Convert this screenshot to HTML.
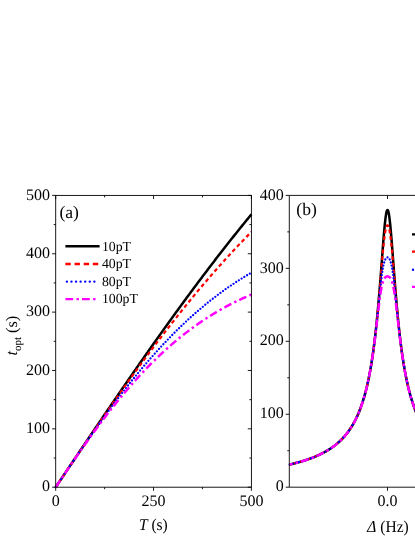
<!DOCTYPE html>
<html><head><meta charset="utf-8"><title>fig</title>
<style>
html,body{margin:0;padding:0;background:#fff;}
svg{display:block;}
text{font-family:"Liberation Serif",serif;fill:#000;text-rendering:geometricPrecision;}
svg{will-change:transform;}
</style></head><body>
<svg width="415" height="537" viewBox="0 0 415 537">
<rect width="415" height="537" fill="#fff"/>
<g id="curvesA"><path d="M55.70,487.20 L56.68,485.74 L57.66,484.28 L58.64,482.82 L59.61,481.36 L60.59,479.91 L61.57,478.45 L62.55,476.99 L63.53,475.53 L64.51,474.07 L65.48,472.61 L66.46,471.15 L67.44,469.70 L68.42,468.24 L69.40,466.78 L70.38,465.32 L71.36,463.87 L72.33,462.41 L73.31,460.95 L74.29,459.50 L75.27,458.04 L76.25,456.58 L77.23,455.13 L78.21,453.67 L79.18,452.22 L80.16,450.76 L81.14,449.31 L82.12,447.86 L83.10,446.40 L84.08,444.95 L85.06,443.50 L86.03,442.05 L87.01,440.59 L87.99,439.14 L88.97,437.69 L89.95,436.24 L90.93,434.79 L91.90,433.35 L92.88,431.90 L93.86,430.45 L94.84,429.00 L95.82,427.56 L96.80,426.11 L97.78,424.66 L98.75,423.22 L99.73,421.78 L100.71,420.33 L101.69,418.89 L102.67,417.45 L103.65,416.01 L104.62,414.57 L105.60,413.13 L106.58,411.69 L107.56,410.25 L108.54,408.81 L109.52,407.37 L110.50,405.94 L111.47,404.50 L112.45,403.07 L113.43,401.64 L114.41,400.20 L115.39,398.77 L116.37,397.34 L117.35,395.91 L118.32,394.48 L119.30,393.06 L120.28,391.63 L121.26,390.20 L122.24,388.78 L123.22,387.36 L124.20,385.93 L125.17,384.51 L126.15,383.09 L127.13,381.67 L128.11,380.25 L129.09,378.83 L130.07,377.42 L131.04,376.00 L132.02,374.59 L133.00,373.18 L133.98,371.76 L134.96,370.35 L135.94,368.94 L136.92,367.54 L137.89,366.13 L138.87,364.72 L139.85,363.32 L140.83,361.92 L141.81,360.51 L142.79,359.11 L143.76,357.71 L144.74,356.31 L145.72,354.92 L146.70,353.52 L147.68,352.13 L148.66,350.74 L149.64,349.34 L150.61,347.95 L151.59,346.57 L152.57,345.18 L153.55,343.79 L154.53,342.41 L155.51,341.03 L156.49,339.64 L157.46,338.26 L158.44,336.89 L159.42,335.51 L160.40,334.13 L161.38,332.76 L162.36,331.39 L163.34,330.02 L164.31,328.65 L165.29,327.28 L166.27,325.91 L167.25,324.55 L168.23,323.18 L169.21,321.82 L170.18,320.46 L171.16,319.11 L172.14,317.75 L173.12,316.39 L174.10,315.04 L175.08,313.69 L176.06,312.34 L177.03,310.99 L178.01,309.65 L178.99,308.30 L179.97,306.96 L180.95,305.62 L181.93,304.28 L182.90,302.94 L183.88,301.61 L184.86,300.27 L185.84,298.94 L186.82,297.61 L187.80,296.28 L188.78,294.96 L189.75,293.63 L190.73,292.31 L191.71,290.99 L192.69,289.67 L193.67,288.35 L194.65,287.04 L195.63,285.72 L196.60,284.41 L197.58,283.10 L198.56,281.80 L199.54,280.49 L200.52,279.19 L201.50,277.89 L202.48,276.59 L203.45,275.29 L204.43,273.99 L205.41,272.70 L206.39,271.41 L207.37,270.12 L208.35,268.83 L209.32,267.55 L210.30,266.26 L211.28,264.98 L212.26,263.70 L213.24,262.43 L214.22,261.15 L215.20,259.88 L216.17,258.61 L217.15,257.34 L218.13,256.07 L219.11,254.81 L220.09,253.55 L221.07,252.29 L222.05,251.03 L223.02,249.78 L224.00,248.52 L224.98,247.27 L225.96,246.02 L226.94,244.78 L227.92,243.53 L228.89,242.29 L229.87,241.05 L230.85,239.81 L231.83,238.58 L232.81,237.35 L233.79,236.12 L234.77,234.89 L235.74,233.66 L236.72,232.44 L237.70,231.22 L238.68,230.00 L239.66,228.78 L240.64,227.57 L241.62,226.36 L242.59,225.15 L243.57,223.94 L244.55,222.73 L245.53,221.53 L246.51,220.33 L247.49,219.13 L248.46,217.94 L249.44,216.75 L250.42,215.56 L251.40,214.37" fill="none" stroke="#000000" stroke-width="2.5"/>
<path d="M55.70,487.20 L56.68,485.74 L57.66,484.28 L58.64,482.82 L59.61,481.36 L60.59,479.91 L61.57,478.45 L62.55,476.99 L63.53,475.53 L64.51,474.08 L65.48,472.62 L66.46,471.16 L67.44,469.71 L68.42,468.25 L69.40,466.80 L70.38,465.34 L71.36,463.89 L72.33,462.44 L73.31,460.99 L74.29,459.54 L75.27,458.09 L76.25,456.64 L77.23,455.19 L78.21,453.74 L79.18,452.29 L80.16,450.85 L81.14,449.40 L82.12,447.96 L83.10,446.52 L84.08,445.08 L85.06,443.63 L86.03,442.20 L87.01,440.76 L87.99,439.32 L88.97,437.88 L89.95,436.45 L90.93,435.02 L91.90,433.58 L92.88,432.15 L93.86,430.72 L94.84,429.30 L95.82,427.87 L96.80,426.44 L97.78,425.02 L98.75,423.60 L99.73,422.18 L100.71,420.76 L101.69,419.34 L102.67,417.93 L103.65,416.51 L104.62,415.10 L105.60,413.69 L106.58,412.28 L107.56,410.87 L108.54,409.47 L109.52,408.06 L110.50,406.66 L111.47,405.26 L112.45,403.86 L113.43,402.46 L114.41,401.07 L115.39,399.68 L116.37,398.28 L117.35,396.90 L118.32,395.51 L119.30,394.12 L120.28,392.74 L121.26,391.36 L122.24,389.98 L123.22,388.60 L124.20,387.23 L125.17,385.86 L126.15,384.48 L127.13,383.12 L128.11,381.75 L129.09,380.39 L130.07,379.02 L131.04,377.66 L132.02,376.31 L133.00,374.95 L133.98,373.60 L134.96,372.25 L135.94,370.90 L136.92,369.55 L137.89,368.21 L138.87,366.87 L139.85,365.53 L140.83,364.19 L141.81,362.86 L142.79,361.53 L143.76,360.20 L144.74,358.87 L145.72,357.55 L146.70,356.23 L147.68,354.91 L148.66,353.59 L149.64,352.28 L150.61,350.97 L151.59,349.66 L152.57,348.35 L153.55,347.05 L154.53,345.75 L155.51,344.45 L156.49,343.16 L157.46,341.86 L158.44,340.57 L159.42,339.29 L160.40,338.00 L161.38,336.72 L162.36,335.44 L163.34,334.16 L164.31,332.89 L165.29,331.62 L166.27,330.35 L167.25,329.09 L168.23,327.82 L169.21,326.56 L170.18,325.31 L171.16,324.05 L172.14,322.80 L173.12,321.56 L174.10,320.31 L175.08,319.07 L176.06,317.83 L177.03,316.59 L178.01,315.36 L178.99,314.13 L179.97,312.90 L180.95,311.68 L181.93,310.46 L182.90,309.24 L183.88,308.02 L184.86,306.81 L185.84,305.60 L186.82,304.39 L187.80,303.19 L188.78,301.99 L189.75,300.79 L190.73,299.60 L191.71,298.41 L192.69,297.22 L193.67,296.04 L194.65,294.86 L195.63,293.68 L196.60,292.50 L197.58,291.33 L198.56,290.16 L199.54,288.99 L200.52,287.83 L201.50,286.67 L202.48,285.52 L203.45,284.36 L204.43,283.21 L205.41,282.07 L206.39,280.92 L207.37,279.78 L208.35,278.65 L209.32,277.51 L210.30,276.38 L211.28,275.25 L212.26,274.13 L213.24,273.01 L214.22,271.89 L215.20,270.78 L216.17,269.67 L217.15,268.56 L218.13,267.45 L219.11,266.35 L220.09,265.25 L221.07,264.16 L222.05,263.07 L223.02,261.98 L224.00,260.89 L224.98,259.81 L225.96,258.74 L226.94,257.66 L227.92,256.59 L228.89,255.52 L229.87,254.46 L230.85,253.39 L231.83,252.34 L232.81,251.28 L233.79,250.23 L234.77,249.18 L235.74,248.14 L236.72,247.09 L237.70,246.06 L238.68,245.02 L239.66,243.99 L240.64,242.96 L241.62,241.94 L242.59,240.92 L243.57,239.90 L244.55,238.88 L245.53,237.87 L246.51,236.86 L247.49,235.86 L248.46,234.86 L249.44,233.86 L250.42,232.87 L251.40,231.88" fill="none" stroke="#ff0000" stroke-width="2.2" stroke-dasharray="3.8 2.9"/>
<path d="M55.70,487.20 L56.68,485.74 L57.66,484.28 L58.64,482.82 L59.61,481.37 L60.59,479.91 L61.57,478.45 L62.55,477.00 L63.53,475.54 L64.51,474.09 L65.48,472.63 L66.46,471.18 L67.44,469.73 L68.42,468.28 L69.40,466.84 L70.38,465.39 L71.36,463.94 L72.33,462.50 L73.31,461.06 L74.29,459.62 L75.27,458.19 L76.25,456.75 L77.23,455.32 L78.21,453.89 L79.18,452.46 L80.16,451.03 L81.14,449.61 L82.12,448.19 L83.10,446.77 L84.08,445.36 L85.06,443.94 L86.03,442.53 L87.01,441.13 L87.99,439.72 L88.97,438.32 L89.95,436.92 L90.93,435.53 L91.90,434.13 L92.88,432.75 L93.86,431.36 L94.84,429.98 L95.82,428.60 L96.80,427.22 L97.78,425.85 L98.75,424.49 L99.73,423.12 L100.71,421.76 L101.69,420.40 L102.67,419.05 L103.65,417.70 L104.62,416.36 L105.60,415.02 L106.58,413.68 L107.56,412.34 L108.54,411.02 L109.52,409.69 L110.50,408.37 L111.47,407.05 L112.45,405.74 L113.43,404.43 L114.41,403.13 L115.39,401.83 L116.37,400.54 L117.35,399.25 L118.32,397.96 L119.30,396.68 L120.28,395.40 L121.26,394.13 L122.24,392.87 L123.22,391.60 L124.20,390.35 L125.17,389.09 L126.15,387.85 L127.13,386.60 L128.11,385.37 L129.09,384.13 L130.07,382.91 L131.04,381.68 L132.02,380.46 L133.00,379.25 L133.98,378.04 L134.96,376.84 L135.94,375.64 L136.92,374.45 L137.89,373.26 L138.87,372.08 L139.85,370.90 L140.83,369.73 L141.81,368.57 L142.79,367.41 L143.76,366.25 L144.74,365.10 L145.72,363.95 L146.70,362.81 L147.68,361.68 L148.66,360.55 L149.64,359.43 L150.61,358.31 L151.59,357.20 L152.57,356.09 L153.55,354.99 L154.53,353.89 L155.51,352.80 L156.49,351.72 L157.46,350.64 L158.44,349.56 L159.42,348.50 L160.40,347.43 L161.38,346.38 L162.36,345.32 L163.34,344.28 L164.31,343.24 L165.29,342.20 L166.27,341.17 L167.25,340.15 L168.23,339.13 L169.21,338.12 L170.18,337.11 L171.16,336.11 L172.14,335.12 L173.12,334.13 L174.10,333.14 L175.08,332.16 L176.06,331.19 L177.03,330.22 L178.01,329.26 L178.99,328.31 L179.97,327.35 L180.95,326.41 L181.93,325.47 L182.90,324.54 L183.88,323.61 L184.86,322.69 L185.84,321.77 L186.82,320.86 L187.80,319.96 L188.78,319.06 L189.75,318.16 L190.73,317.27 L191.71,316.39 L192.69,315.51 L193.67,314.64 L194.65,313.78 L195.63,312.92 L196.60,312.06 L197.58,311.21 L198.56,310.37 L199.54,309.53 L200.52,308.70 L201.50,307.87 L202.48,307.05 L203.45,306.23 L204.43,305.42 L205.41,304.62 L206.39,303.82 L207.37,303.02 L208.35,302.24 L209.32,301.45 L210.30,300.68 L211.28,299.90 L212.26,299.14 L213.24,298.37 L214.22,297.62 L215.20,296.87 L216.17,296.12 L217.15,295.38 L218.13,294.65 L219.11,293.92 L220.09,293.19 L221.07,292.48 L222.05,291.76 L223.02,291.05 L224.00,290.35 L224.98,289.65 L225.96,288.96 L226.94,288.27 L227.92,287.59 L228.89,286.91 L229.87,286.24 L230.85,285.58 L231.83,284.91 L232.81,284.26 L233.79,283.61 L234.77,282.96 L235.74,282.32 L236.72,281.68 L237.70,281.05 L238.68,280.42 L239.66,279.80 L240.64,279.19 L241.62,278.57 L242.59,277.97 L243.57,277.37 L244.55,276.77 L245.53,276.18 L246.51,275.59 L247.49,275.01 L248.46,274.43 L249.44,273.86 L250.42,273.29 L251.40,272.73" fill="none" stroke="#0000ff" stroke-width="2.3" stroke-dasharray="0 3.2" stroke-linecap="round"/>
<path d="M55.70,487.20 L56.68,485.74 L57.66,484.28 L58.64,482.82 L59.61,481.37 L60.59,479.91 L61.57,478.46 L62.55,477.00 L63.53,475.55 L64.51,474.10 L65.48,472.66 L66.46,471.21 L67.44,469.77 L68.42,468.33 L69.40,466.89 L70.38,465.45 L71.36,464.02 L72.33,462.59 L73.31,461.16 L74.29,459.74 L75.27,458.32 L76.25,456.90 L77.23,455.49 L78.21,454.07 L79.18,452.67 L80.16,451.26 L81.14,449.87 L82.12,448.47 L83.10,447.08 L84.08,445.69 L85.06,444.31 L86.03,442.93 L87.01,441.56 L87.99,440.19 L88.97,438.82 L89.95,437.46 L90.93,436.10 L91.90,434.75 L92.88,433.40 L93.86,432.06 L94.84,430.73 L95.82,429.39 L96.80,428.07 L97.78,426.75 L98.75,425.43 L99.73,424.12 L100.71,422.81 L101.69,421.51 L102.67,420.22 L103.65,418.93 L104.62,417.64 L105.60,416.37 L106.58,415.09 L107.56,413.83 L108.54,412.57 L109.52,411.31 L110.50,410.06 L111.47,408.82 L112.45,407.58 L113.43,406.35 L114.41,405.12 L115.39,403.90 L116.37,402.69 L117.35,401.48 L118.32,400.28 L119.30,399.08 L120.28,397.89 L121.26,396.71 L122.24,395.53 L123.22,394.36 L124.20,393.20 L125.17,392.04 L126.15,390.89 L127.13,389.74 L128.11,388.60 L129.09,387.47 L130.07,386.35 L131.04,385.23 L132.02,384.11 L133.00,383.01 L133.98,381.90 L134.96,380.81 L135.94,379.72 L136.92,378.64 L137.89,377.57 L138.87,376.50 L139.85,375.44 L140.83,374.38 L141.81,373.34 L142.79,372.29 L143.76,371.26 L144.74,370.23 L145.72,369.21 L146.70,368.19 L147.68,367.18 L148.66,366.18 L149.64,365.19 L150.61,364.20 L151.59,363.21 L152.57,362.24 L153.55,361.27 L154.53,360.30 L155.51,359.35 L156.49,358.40 L157.46,357.45 L158.44,356.52 L159.42,355.59 L160.40,354.66 L161.38,353.75 L162.36,352.83 L163.34,351.93 L164.31,351.03 L165.29,350.14 L166.27,349.26 L167.25,348.38 L168.23,347.50 L169.21,346.64 L170.18,345.78 L171.16,344.93 L172.14,344.08 L173.12,343.24 L174.10,342.41 L175.08,341.58 L176.06,340.76 L177.03,339.94 L178.01,339.13 L178.99,338.33 L179.97,337.53 L180.95,336.74 L181.93,335.96 L182.90,335.18 L183.88,334.41 L184.86,333.64 L185.84,332.88 L186.82,332.13 L187.80,331.38 L188.78,330.64 L189.75,329.91 L190.73,329.18 L191.71,328.46 L192.69,327.74 L193.67,327.03 L194.65,326.32 L195.63,325.62 L196.60,324.93 L197.58,324.24 L198.56,323.56 L199.54,322.88 L200.52,322.21 L201.50,321.55 L202.48,320.89 L203.45,320.23 L204.43,319.59 L205.41,318.94 L206.39,318.31 L207.37,317.68 L208.35,317.05 L209.32,316.43 L210.30,315.82 L211.28,315.21 L212.26,314.60 L213.24,314.01 L214.22,313.41 L215.20,312.83 L216.17,312.24 L217.15,311.67 L218.13,311.10 L219.11,310.53 L220.09,309.97 L221.07,309.41 L222.05,308.86 L223.02,308.32 L224.00,307.78 L224.98,307.24 L225.96,306.71 L226.94,306.19 L227.92,305.67 L228.89,305.15 L229.87,304.64 L230.85,304.14 L231.83,303.64 L232.81,303.14 L233.79,302.65 L234.77,302.16 L235.74,301.68 L236.72,301.21 L237.70,300.73 L238.68,300.27 L239.66,299.81 L240.64,299.35 L241.62,298.90 L242.59,298.45 L243.57,298.00 L244.55,297.56 L245.53,297.13 L246.51,296.70 L247.49,296.27 L248.46,295.85 L249.44,295.43 L250.42,295.02 L251.40,294.61" fill="none" stroke="#ff00ff" stroke-width="2.5" stroke-dasharray="7.8 3.3 2.4 3.1"/></g>
<g id="curvesB"><path d="M289.30,464.62 L289.50,464.57 L289.75,464.51 L290.00,464.46 L290.25,464.40 L290.50,464.34 L290.75,464.28 L291.00,464.22 L291.25,464.16 L291.50,464.10 L291.75,464.04 L292.00,463.98 L292.25,463.92 L292.50,463.86 L292.75,463.80 L293.00,463.74 L293.25,463.68 L293.50,463.62 L293.75,463.55 L294.00,463.49 L294.25,463.43 L294.50,463.36 L294.75,463.30 L295.00,463.24 L295.25,463.17 L295.50,463.11 L295.75,463.04 L296.00,462.98 L296.25,462.91 L296.50,462.84 L296.75,462.78 L297.00,462.71 L297.25,462.64 L297.50,462.58 L297.75,462.51 L298.00,462.44 L298.25,462.37 L298.50,462.30 L298.75,462.23 L299.00,462.16 L299.25,462.09 L299.50,462.02 L299.75,461.95 L300.00,461.88 L300.25,461.81 L300.50,461.73 L300.75,461.66 L301.00,461.59 L301.25,461.51 L301.50,461.44 L301.75,461.37 L302.00,461.29 L302.25,461.22 L302.50,461.14 L302.75,461.06 L303.00,460.99 L303.25,460.91 L303.50,460.83 L303.75,460.75 L304.00,460.68 L304.25,460.60 L304.50,460.52 L304.75,460.44 L305.00,460.36 L305.25,460.28 L305.50,460.20 L305.75,460.11 L306.00,460.03 L306.25,459.95 L306.50,459.87 L306.75,459.78 L307.00,459.70 L307.25,459.61 L307.50,459.53 L307.75,459.44 L308.00,459.35 L308.25,459.27 L308.50,459.18 L308.75,459.09 L309.00,459.00 L309.25,458.91 L309.50,458.82 L309.75,458.73 L310.00,458.64 L310.25,458.55 L310.50,458.46 L310.75,458.37 L311.00,458.27 L311.25,458.18 L311.50,458.09 L311.75,457.99 L312.00,457.90 L312.25,457.80 L312.50,457.70 L312.75,457.60 L313.00,457.51 L313.25,457.41 L313.50,457.31 L313.75,457.21 L314.00,457.11 L314.25,457.01 L314.50,456.90 L314.75,456.80 L315.00,456.70 L315.25,456.59 L315.50,456.49 L315.75,456.38 L316.00,456.28 L316.25,456.17 L316.50,456.06 L316.75,455.95 L317.00,455.84 L317.25,455.73 L317.50,455.62 L317.75,455.51 L318.00,455.40 L318.25,455.28 L318.50,455.17 L318.75,455.06 L319.00,454.94 L319.25,454.82 L319.50,454.71 L319.75,454.59 L320.00,454.47 L320.25,454.35 L320.50,454.23 L320.75,454.11 L321.00,453.98 L321.25,453.86 L321.50,453.73 L321.75,453.61 L322.00,453.48 L322.25,453.36 L322.50,453.23 L322.75,453.10 L323.00,452.97 L323.25,452.84 L323.50,452.70 L323.75,452.57 L324.00,452.44 L324.25,452.30 L324.50,452.17 L324.75,452.03 L325.00,451.89 L325.25,451.75 L325.50,451.61 L325.75,451.47 L326.00,451.33 L326.25,451.18 L326.50,451.04 L326.75,450.89 L327.00,450.74 L327.25,450.59 L327.50,450.44 L327.75,450.29 L328.00,450.14 L328.25,449.99 L328.50,449.83 L328.75,449.68 L329.00,449.52 L329.25,449.36 L329.50,449.20 L329.75,449.04 L330.00,448.88 L330.25,448.71 L330.50,448.55 L330.75,448.38 L331.00,448.21 L331.25,448.04 L331.50,447.87 L331.75,447.70 L332.00,447.52 L332.25,447.35 L332.50,447.17 L332.75,446.99 L333.00,446.81 L333.25,446.63 L333.50,446.44 L333.75,446.26 L334.00,446.07 L334.25,445.88 L334.50,445.69 L334.75,445.50 L335.00,445.31 L335.25,445.11 L335.50,444.91 L335.75,444.71 L336.00,444.51 L336.25,444.31 L336.50,444.10 L336.75,443.90 L337.00,443.69 L337.25,443.48 L337.50,443.26 L337.75,443.05 L338.00,442.83 L338.25,442.61 L338.50,442.39 L338.75,442.17 L339.00,441.94 L339.25,441.71 L339.50,441.48 L339.75,441.25 L340.00,441.01 L340.25,440.78 L340.50,440.54 L340.75,440.29 L341.00,440.05 L341.25,439.80 L341.50,439.55 L341.75,439.30 L342.00,439.04 L342.25,438.79 L342.50,438.52 L342.75,438.26 L343.00,437.99 L343.25,437.73 L343.50,437.45 L343.75,437.18 L344.00,436.90 L344.25,436.62 L344.50,436.33 L344.75,436.05 L345.00,435.76 L345.25,435.46 L345.50,435.17 L345.75,434.87 L346.00,434.56 L346.25,434.25 L346.50,433.94 L346.75,433.63 L347.00,433.31 L347.25,432.99 L347.50,432.66 L347.75,432.33 L348.00,432.00 L348.25,431.66 L348.50,431.32 L348.75,430.97 L349.00,430.62 L349.25,430.27 L349.50,429.91 L349.75,429.55 L350.00,429.18 L350.25,428.81 L350.50,428.43 L350.75,428.05 L351.00,427.66 L351.25,427.27 L351.50,426.88 L351.75,426.47 L352.00,426.07 L352.25,425.66 L352.50,425.24 L352.75,424.81 L353.00,424.39 L353.25,423.95 L353.50,423.51 L353.75,423.06 L354.00,422.61 L354.25,422.15 L354.50,421.69 L354.75,421.21 L355.00,420.74 L355.25,420.25 L355.50,419.76 L355.75,419.26 L356.00,418.75 L356.25,418.24 L356.50,417.72 L356.75,417.19 L357.00,416.65 L357.25,416.11 L357.50,415.55 L357.75,414.99 L358.00,414.42 L358.25,413.84 L358.50,413.26 L358.75,412.66 L359.00,412.05 L359.25,411.44 L359.50,410.81 L359.75,410.18 L360.00,409.53 L360.25,408.88 L360.50,408.21 L360.75,407.53 L361.00,406.84 L361.25,406.14 L361.50,405.43 L361.75,404.71 L362.00,403.97 L362.25,403.22 L362.50,402.46 L362.75,401.69 L363.00,400.90 L363.25,400.10 L363.50,399.28 L363.75,398.45 L364.00,397.60 L364.25,396.74 L364.50,395.86 L364.75,394.97 L365.00,394.06 L365.25,393.13 L365.50,392.19 L365.75,391.23 L366.00,390.25 L366.25,389.25 L366.50,388.23 L366.75,387.19 L367.00,386.13 L367.25,385.06 L367.50,383.96 L367.75,382.83 L368.00,381.69 L368.25,380.52 L368.50,379.33 L368.75,378.11 L369.00,376.87 L369.25,375.60 L369.50,374.31 L369.75,372.98 L370.00,371.63 L370.25,370.26 L370.50,368.85 L370.75,367.41 L371.00,365.94 L371.25,364.44 L371.50,362.90 L371.75,361.33 L372.00,359.73 L372.25,358.09 L372.50,356.41 L372.75,354.70 L373.00,352.95 L373.25,351.16 L373.50,349.32 L373.75,347.45 L374.00,345.53 L374.25,343.57 L374.50,341.57 L374.75,339.52 L375.00,337.42 L375.25,335.28 L375.50,333.08 L375.75,330.84 L376.00,328.54 L376.25,326.20 L376.50,323.80 L376.75,321.35 L377.00,318.85 L377.25,316.29 L377.50,313.68 L377.75,311.02 L378.00,308.30 L378.25,305.52 L378.50,302.69 L378.75,299.81 L379.00,296.88 L379.25,293.90 L379.50,290.86 L379.75,287.78 L380.00,284.65 L380.25,281.49 L380.50,278.28 L380.75,275.04 L381.00,271.77 L381.25,268.48 L381.50,265.17 L381.75,261.85 L382.00,258.53 L382.25,255.21 L382.50,251.91 L382.75,248.64 L383.00,245.40 L383.25,242.21 L383.50,239.09 L383.75,236.05 L384.00,233.10 L384.25,230.26 L384.50,227.54 L384.75,224.96 L385.00,222.53 L385.25,220.28 L385.50,218.22 L385.75,216.35 L386.00,214.71 L386.25,213.29 L386.50,212.12 L386.75,211.19 L387.00,210.53 L387.25,210.12 L387.50,209.99 L387.75,210.12 L388.00,210.53 L388.25,211.19 L388.50,212.12 L388.75,213.29 L389.00,214.71 L389.25,216.35 L389.50,218.22 L389.75,220.28 L390.00,222.53 L390.25,224.96 L390.50,227.54 L390.75,230.26 L391.00,233.10 L391.25,236.05 L391.50,239.09 L391.75,242.21 L392.00,245.40 L392.25,248.64 L392.50,251.91 L392.75,255.21 L393.00,258.53 L393.25,261.85 L393.50,265.17 L393.75,268.48 L394.00,271.77 L394.25,275.04 L394.50,278.28 L394.75,281.49 L395.00,284.65 L395.25,287.78 L395.50,290.86 L395.75,293.90 L396.00,296.88 L396.25,299.81 L396.50,302.69 L396.75,305.52 L397.00,308.30 L397.25,311.02 L397.50,313.68 L397.75,316.29 L398.00,318.85 L398.25,321.35 L398.50,323.80 L398.75,326.20 L399.00,328.54 L399.25,330.84 L399.50,333.08 L399.75,335.28 L400.00,337.42 L400.25,339.52 L400.50,341.57 L400.75,343.57 L401.00,345.53 L401.25,347.45 L401.50,349.32 L401.75,351.16 L402.00,352.95 L402.25,354.70 L402.50,356.41 L402.75,358.09 L403.00,359.73 L403.25,361.33 L403.50,362.90 L403.75,364.44 L404.00,365.94 L404.25,367.41 L404.50,368.85 L404.75,370.26 L405.00,371.63 L405.25,372.98 L405.50,374.31 L405.75,375.60 L406.00,376.87 L406.25,378.11 L406.50,379.33 L406.75,380.52 L407.00,381.69 L407.25,382.83 L407.50,383.96 L407.75,385.06 L408.00,386.13 L408.25,387.19 L408.50,388.23 L408.75,389.25 L409.00,390.25 L409.25,391.23 L409.50,392.19 L409.75,393.13 L410.00,394.06 L410.25,394.97 L410.50,395.86 L410.75,396.74 L411.00,397.60 L411.25,398.45 L411.50,399.28 L411.75,400.10 L412.00,400.90 L412.25,401.69 L412.50,402.46 L412.75,403.22 L413.00,403.97 L413.25,404.71 L413.50,405.43 L413.75,406.14 L414.00,406.84 L414.25,407.53 L414.50,408.21 L414.75,408.88 L415.00,409.53 L415.25,410.18 L415.50,410.81 L415.75,411.44 L416.00,412.05 L416.25,412.66 L416.50,413.26 L416.75,413.84 L417.00,414.42 L417.25,414.99 L417.50,415.55 L417.75,416.11 L418.00,416.65" fill="none" stroke="#000000" stroke-width="2.5" stroke-linejoin="round"/>
<path d="M289.30,464.62 L289.50,464.57 L289.75,464.51 L290.00,464.46 L290.25,464.40 L290.50,464.34 L290.75,464.28 L291.00,464.22 L291.25,464.16 L291.50,464.10 L291.75,464.04 L292.00,463.98 L292.25,463.92 L292.50,463.86 L292.75,463.80 L293.00,463.74 L293.25,463.68 L293.50,463.62 L293.75,463.55 L294.00,463.49 L294.25,463.43 L294.50,463.36 L294.75,463.30 L295.00,463.24 L295.25,463.17 L295.50,463.11 L295.75,463.04 L296.00,462.98 L296.25,462.91 L296.50,462.84 L296.75,462.78 L297.00,462.71 L297.25,462.64 L297.50,462.58 L297.75,462.51 L298.00,462.44 L298.25,462.37 L298.50,462.30 L298.75,462.23 L299.00,462.16 L299.25,462.09 L299.50,462.02 L299.75,461.95 L300.00,461.88 L300.25,461.81 L300.50,461.73 L300.75,461.66 L301.00,461.59 L301.25,461.51 L301.50,461.44 L301.75,461.37 L302.00,461.29 L302.25,461.22 L302.50,461.14 L302.75,461.06 L303.00,460.99 L303.25,460.91 L303.50,460.83 L303.75,460.75 L304.00,460.68 L304.25,460.60 L304.50,460.52 L304.75,460.44 L305.00,460.36 L305.25,460.28 L305.50,460.20 L305.75,460.11 L306.00,460.03 L306.25,459.95 L306.50,459.87 L306.75,459.78 L307.00,459.70 L307.25,459.61 L307.50,459.53 L307.75,459.44 L308.00,459.35 L308.25,459.27 L308.50,459.18 L308.75,459.09 L309.00,459.00 L309.25,458.91 L309.50,458.82 L309.75,458.73 L310.00,458.64 L310.25,458.55 L310.50,458.46 L310.75,458.37 L311.00,458.27 L311.25,458.18 L311.50,458.09 L311.75,457.99 L312.00,457.90 L312.25,457.80 L312.50,457.70 L312.75,457.60 L313.00,457.51 L313.25,457.41 L313.50,457.31 L313.75,457.21 L314.00,457.11 L314.25,457.01 L314.50,456.90 L314.75,456.80 L315.00,456.70 L315.25,456.59 L315.50,456.49 L315.75,456.38 L316.00,456.28 L316.25,456.17 L316.50,456.06 L316.75,455.95 L317.00,455.84 L317.25,455.73 L317.50,455.62 L317.75,455.51 L318.00,455.40 L318.25,455.28 L318.50,455.17 L318.75,455.06 L319.00,454.94 L319.25,454.82 L319.50,454.71 L319.75,454.59 L320.00,454.47 L320.25,454.35 L320.50,454.23 L320.75,454.11 L321.00,453.98 L321.25,453.86 L321.50,453.73 L321.75,453.61 L322.00,453.48 L322.25,453.36 L322.50,453.23 L322.75,453.10 L323.00,452.97 L323.25,452.84 L323.50,452.70 L323.75,452.57 L324.00,452.44 L324.25,452.30 L324.50,452.17 L324.75,452.03 L325.00,451.89 L325.25,451.75 L325.50,451.61 L325.75,451.47 L326.00,451.33 L326.25,451.18 L326.50,451.04 L326.75,450.89 L327.00,450.74 L327.25,450.59 L327.50,450.44 L327.75,450.29 L328.00,450.14 L328.25,449.99 L328.50,449.83 L328.75,449.68 L329.00,449.52 L329.25,449.36 L329.50,449.20 L329.75,449.04 L330.00,448.88 L330.25,448.71 L330.50,448.55 L330.75,448.38 L331.00,448.21 L331.25,448.04 L331.50,447.87 L331.75,447.70 L332.00,447.52 L332.25,447.35 L332.50,447.17 L332.75,446.99 L333.00,446.81 L333.25,446.63 L333.50,446.44 L333.75,446.26 L334.00,446.07 L334.25,445.88 L334.50,445.69 L334.75,445.50 L335.00,445.31 L335.25,445.11 L335.50,444.91 L335.75,444.71 L336.00,444.51 L336.25,444.31 L336.50,444.10 L336.75,443.90 L337.00,443.69 L337.25,443.48 L337.50,443.26 L337.75,443.05 L338.00,442.83 L338.25,442.61 L338.50,442.39 L338.75,442.17 L339.00,441.94 L339.25,441.71 L339.50,441.48 L339.75,441.25 L340.00,441.01 L340.25,440.78 L340.50,440.54 L340.75,440.29 L341.00,440.05 L341.25,439.80 L341.50,439.55 L341.75,439.30 L342.00,439.04 L342.25,438.79 L342.50,438.52 L342.75,438.26 L343.00,437.99 L343.25,437.73 L343.50,437.45 L343.75,437.18 L344.00,436.90 L344.25,436.62 L344.50,436.33 L344.75,436.05 L345.00,435.76 L345.25,435.46 L345.50,435.17 L345.75,434.87 L346.00,434.56 L346.25,434.25 L346.50,433.94 L346.75,433.63 L347.00,433.31 L347.25,432.99 L347.50,432.66 L347.75,432.33 L348.00,432.00 L348.25,431.66 L348.50,431.32 L348.75,430.97 L349.00,430.62 L349.25,430.27 L349.50,429.91 L349.75,429.55 L350.00,429.18 L350.25,428.81 L350.50,428.43 L350.75,428.05 L351.00,427.66 L351.25,427.27 L351.50,426.88 L351.75,426.47 L352.00,426.07 L352.25,425.66 L352.50,425.24 L352.75,424.81 L353.00,424.39 L353.25,423.95 L353.50,423.51 L353.75,423.06 L354.00,422.61 L354.25,422.15 L354.50,421.69 L354.75,421.21 L355.00,420.74 L355.25,420.25 L355.50,419.76 L355.75,419.26 L356.00,418.75 L356.25,418.24 L356.50,417.72 L356.75,417.19 L357.00,416.65 L357.25,416.11 L357.50,415.55 L357.75,414.99 L358.00,414.42 L358.25,413.84 L358.50,413.26 L358.75,412.66 L359.00,412.05 L359.25,411.44 L359.50,410.81 L359.75,410.18 L360.00,409.53 L360.25,408.88 L360.50,408.21 L360.75,407.53 L361.00,406.84 L361.25,406.14 L361.50,405.43 L361.75,404.71 L362.00,403.97 L362.25,403.22 L362.50,402.46 L362.75,401.69 L363.00,400.90 L363.25,400.10 L363.50,399.28 L363.75,398.45 L364.00,397.60 L364.25,396.74 L364.50,395.86 L364.75,394.97 L365.00,394.06 L365.25,393.14 L365.50,392.19 L365.75,391.23 L366.00,390.25 L366.25,389.25 L366.50,388.23 L366.75,387.20 L367.00,386.14 L367.25,385.06 L367.50,383.96 L367.75,382.84 L368.00,381.69 L368.25,380.52 L368.50,379.33 L368.75,378.11 L369.00,376.87 L369.25,375.61 L369.50,374.31 L369.75,372.99 L370.00,371.64 L370.25,370.26 L370.50,368.86 L370.75,367.42 L371.00,365.95 L371.25,364.45 L371.50,362.92 L371.75,361.35 L372.00,359.75 L372.25,358.11 L372.50,356.44 L372.75,354.73 L373.00,352.98 L373.25,351.19 L373.50,349.36 L373.75,347.49 L374.00,345.58 L374.25,343.63 L374.50,341.63 L374.75,339.59 L375.00,337.50 L375.25,335.36 L375.50,333.18 L375.75,330.95 L376.00,328.68 L376.25,326.35 L376.50,323.97 L376.75,321.55 L377.00,319.07 L377.25,316.55 L377.50,313.97 L377.75,311.35 L378.00,308.68 L378.25,305.96 L378.50,303.20 L378.75,300.39 L379.00,297.55 L379.25,294.66 L379.50,291.74 L379.75,288.79 L380.00,285.81 L380.25,282.81 L380.50,279.80 L380.75,276.77 L381.00,273.75 L381.25,270.74 L381.50,267.74 L381.75,264.77 L382.00,261.83 L382.25,258.94 L382.50,256.11 L382.75,253.35 L383.00,250.67 L383.25,248.09 L383.50,245.61 L383.75,243.24 L384.00,240.99 L384.25,238.87 L384.50,236.89 L384.75,235.06 L385.00,233.38 L385.25,231.85 L385.50,230.48 L385.75,229.27 L386.00,228.22 L386.25,227.33 L386.50,226.60 L386.75,226.04 L387.00,225.63 L387.25,225.39 L387.50,225.31 L387.75,225.39 L388.00,225.63 L388.25,226.04 L388.50,226.60 L388.75,227.33 L389.00,228.22 L389.25,229.27 L389.50,230.48 L389.75,231.85 L390.00,233.38 L390.25,235.06 L390.50,236.89 L390.75,238.87 L391.00,240.99 L391.25,243.24 L391.50,245.61 L391.75,248.09 L392.00,250.67 L392.25,253.35 L392.50,256.11 L392.75,258.94 L393.00,261.83 L393.25,264.77 L393.50,267.74 L393.75,270.74 L394.00,273.75 L394.25,276.77 L394.50,279.80 L394.75,282.81 L395.00,285.81 L395.25,288.79 L395.50,291.74 L395.75,294.66 L396.00,297.55 L396.25,300.39 L396.50,303.20 L396.75,305.96 L397.00,308.68 L397.25,311.35 L397.50,313.97 L397.75,316.55 L398.00,319.07 L398.25,321.55 L398.50,323.97 L398.75,326.35 L399.00,328.68 L399.25,330.95 L399.50,333.18 L399.75,335.36 L400.00,337.50 L400.25,339.59 L400.50,341.63 L400.75,343.63 L401.00,345.58 L401.25,347.49 L401.50,349.36 L401.75,351.19 L402.00,352.98 L402.25,354.73 L402.50,356.44 L402.75,358.11 L403.00,359.75 L403.25,361.35 L403.50,362.92 L403.75,364.45 L404.00,365.95 L404.25,367.42 L404.50,368.86 L404.75,370.26 L405.00,371.64 L405.25,372.99 L405.50,374.31 L405.75,375.61 L406.00,376.87 L406.25,378.11 L406.50,379.33 L406.75,380.52 L407.00,381.69 L407.25,382.84 L407.50,383.96 L407.75,385.06 L408.00,386.14 L408.25,387.20 L408.50,388.23 L408.75,389.25 L409.00,390.25 L409.25,391.23 L409.50,392.19 L409.75,393.14 L410.00,394.06 L410.25,394.97 L410.50,395.86 L410.75,396.74 L411.00,397.60 L411.25,398.45 L411.50,399.28 L411.75,400.10 L412.00,400.90 L412.25,401.69 L412.50,402.46 L412.75,403.22 L413.00,403.97 L413.25,404.71 L413.50,405.43 L413.75,406.14 L414.00,406.84 L414.25,407.53 L414.50,408.21 L414.75,408.88 L415.00,409.53 L415.25,410.18 L415.50,410.81 L415.75,411.44 L416.00,412.05 L416.25,412.66 L416.50,413.26 L416.75,413.84 L417.00,414.42 L417.25,414.99 L417.50,415.55 L417.75,416.11 L418.00,416.65" fill="none" stroke="#ff0000" stroke-width="2.2" stroke-linejoin="round" stroke-dasharray="3.8 2.9" stroke-dashoffset="2.06"/>
<path d="M289.30,464.62 L289.50,464.57 L289.75,464.51 L290.00,464.46 L290.25,464.40 L290.50,464.34 L290.75,464.28 L291.00,464.22 L291.25,464.16 L291.50,464.10 L291.75,464.04 L292.00,463.98 L292.25,463.92 L292.50,463.86 L292.75,463.80 L293.00,463.74 L293.25,463.68 L293.50,463.62 L293.75,463.55 L294.00,463.49 L294.25,463.43 L294.50,463.36 L294.75,463.30 L295.00,463.24 L295.25,463.17 L295.50,463.11 L295.75,463.04 L296.00,462.98 L296.25,462.91 L296.50,462.84 L296.75,462.78 L297.00,462.71 L297.25,462.64 L297.50,462.58 L297.75,462.51 L298.00,462.44 L298.25,462.37 L298.50,462.30 L298.75,462.23 L299.00,462.16 L299.25,462.09 L299.50,462.02 L299.75,461.95 L300.00,461.88 L300.25,461.81 L300.50,461.73 L300.75,461.66 L301.00,461.59 L301.25,461.51 L301.50,461.44 L301.75,461.37 L302.00,461.29 L302.25,461.22 L302.50,461.14 L302.75,461.06 L303.00,460.99 L303.25,460.91 L303.50,460.83 L303.75,460.75 L304.00,460.68 L304.25,460.60 L304.50,460.52 L304.75,460.44 L305.00,460.36 L305.25,460.28 L305.50,460.20 L305.75,460.11 L306.00,460.03 L306.25,459.95 L306.50,459.87 L306.75,459.78 L307.00,459.70 L307.25,459.61 L307.50,459.53 L307.75,459.44 L308.00,459.35 L308.25,459.27 L308.50,459.18 L308.75,459.09 L309.00,459.00 L309.25,458.91 L309.50,458.82 L309.75,458.73 L310.00,458.64 L310.25,458.55 L310.50,458.46 L310.75,458.37 L311.00,458.27 L311.25,458.18 L311.50,458.09 L311.75,457.99 L312.00,457.90 L312.25,457.80 L312.50,457.70 L312.75,457.60 L313.00,457.51 L313.25,457.41 L313.50,457.31 L313.75,457.21 L314.00,457.11 L314.25,457.01 L314.50,456.90 L314.75,456.80 L315.00,456.70 L315.25,456.59 L315.50,456.49 L315.75,456.38 L316.00,456.28 L316.25,456.17 L316.50,456.06 L316.75,455.95 L317.00,455.84 L317.25,455.73 L317.50,455.62 L317.75,455.51 L318.00,455.40 L318.25,455.28 L318.50,455.17 L318.75,455.06 L319.00,454.94 L319.25,454.82 L319.50,454.71 L319.75,454.59 L320.00,454.47 L320.25,454.35 L320.50,454.23 L320.75,454.11 L321.00,453.98 L321.25,453.86 L321.50,453.73 L321.75,453.61 L322.00,453.48 L322.25,453.36 L322.50,453.23 L322.75,453.10 L323.00,452.97 L323.25,452.84 L323.50,452.70 L323.75,452.57 L324.00,452.44 L324.25,452.30 L324.50,452.17 L324.75,452.03 L325.00,451.89 L325.25,451.75 L325.50,451.61 L325.75,451.47 L326.00,451.33 L326.25,451.18 L326.50,451.04 L326.75,450.89 L327.00,450.74 L327.25,450.59 L327.50,450.44 L327.75,450.29 L328.00,450.14 L328.25,449.99 L328.50,449.83 L328.75,449.68 L329.00,449.52 L329.25,449.36 L329.50,449.20 L329.75,449.04 L330.00,448.88 L330.25,448.71 L330.50,448.55 L330.75,448.38 L331.00,448.21 L331.25,448.04 L331.50,447.87 L331.75,447.70 L332.00,447.52 L332.25,447.35 L332.50,447.17 L332.75,446.99 L333.00,446.81 L333.25,446.63 L333.50,446.44 L333.75,446.26 L334.00,446.07 L334.25,445.88 L334.50,445.69 L334.75,445.50 L335.00,445.31 L335.25,445.11 L335.50,444.91 L335.75,444.71 L336.00,444.51 L336.25,444.31 L336.50,444.10 L336.75,443.90 L337.00,443.69 L337.25,443.48 L337.50,443.26 L337.75,443.05 L338.00,442.83 L338.25,442.61 L338.50,442.39 L338.75,442.17 L339.00,441.94 L339.25,441.71 L339.50,441.48 L339.75,441.25 L340.00,441.01 L340.25,440.78 L340.50,440.54 L340.75,440.29 L341.00,440.05 L341.25,439.80 L341.50,439.55 L341.75,439.30 L342.00,439.04 L342.25,438.79 L342.50,438.52 L342.75,438.26 L343.00,437.99 L343.25,437.73 L343.50,437.45 L343.75,437.18 L344.00,436.90 L344.25,436.62 L344.50,436.33 L344.75,436.05 L345.00,435.76 L345.25,435.46 L345.50,435.17 L345.75,434.87 L346.00,434.56 L346.25,434.25 L346.50,433.94 L346.75,433.63 L347.00,433.31 L347.25,432.99 L347.50,432.66 L347.75,432.33 L348.00,432.00 L348.25,431.66 L348.50,431.32 L348.75,430.97 L349.00,430.62 L349.25,430.27 L349.50,429.91 L349.75,429.55 L350.00,429.18 L350.25,428.81 L350.50,428.43 L350.75,428.05 L351.00,427.66 L351.25,427.27 L351.50,426.88 L351.75,426.47 L352.00,426.07 L352.25,425.66 L352.50,425.24 L352.75,424.81 L353.00,424.39 L353.25,423.95 L353.50,423.51 L353.75,423.06 L354.00,422.61 L354.25,422.15 L354.50,421.69 L354.75,421.21 L355.00,420.74 L355.25,420.25 L355.50,419.76 L355.75,419.26 L356.00,418.75 L356.25,418.24 L356.50,417.72 L356.75,417.19 L357.00,416.65 L357.25,416.11 L357.50,415.55 L357.75,414.99 L358.00,414.42 L358.25,413.84 L358.50,413.26 L358.75,412.66 L359.00,412.05 L359.25,411.44 L359.50,410.81 L359.75,410.18 L360.00,409.53 L360.25,408.88 L360.50,408.21 L360.75,407.53 L361.00,406.85 L361.25,406.15 L361.50,405.43 L361.75,404.71 L362.00,403.97 L362.25,403.23 L362.50,402.46 L362.75,401.69 L363.00,400.90 L363.25,400.10 L363.50,399.28 L363.75,398.45 L364.00,397.61 L364.25,396.75 L364.50,395.87 L364.75,394.98 L365.00,394.07 L365.25,393.14 L365.50,392.20 L365.75,391.24 L366.00,390.26 L366.25,389.26 L366.50,388.24 L366.75,387.21 L367.00,386.15 L367.25,385.07 L367.50,383.97 L367.75,382.85 L368.00,381.71 L368.25,380.54 L368.50,379.35 L368.75,378.14 L369.00,376.90 L369.25,375.63 L369.50,374.34 L369.75,373.02 L370.00,371.68 L370.25,370.31 L370.50,368.90 L370.75,367.47 L371.00,366.01 L371.25,364.52 L371.50,362.99 L371.75,361.43 L372.00,359.84 L372.25,358.21 L372.50,356.55 L372.75,354.86 L373.00,353.12 L373.25,351.36 L373.50,349.55 L373.75,347.70 L374.00,345.82 L374.25,343.90 L374.50,341.93 L374.75,339.93 L375.00,337.89 L375.25,335.81 L375.50,333.68 L375.75,331.52 L376.00,329.32 L376.25,327.09 L376.50,324.81 L376.75,322.50 L377.00,320.16 L377.25,317.79 L377.50,315.39 L377.75,312.96 L378.00,310.51 L378.25,308.05 L378.50,305.58 L378.75,303.10 L379.00,300.62 L379.25,298.15 L379.50,295.70 L379.75,293.27 L380.00,290.87 L380.25,288.51 L380.50,286.21 L380.75,283.97 L381.00,281.79 L381.25,279.69 L381.50,277.68 L381.75,275.76 L382.00,273.93 L382.25,272.21 L382.50,270.60 L382.75,269.09 L383.00,267.69 L383.25,266.40 L383.50,265.21 L383.75,264.13 L384.00,263.15 L384.25,262.26 L384.50,261.47 L384.75,260.76 L385.00,260.13 L385.25,259.58 L385.50,259.10 L385.75,258.68 L386.00,258.33 L386.25,258.04 L386.50,257.81 L386.75,257.63 L387.00,257.51 L387.25,257.43 L387.50,257.41 L387.75,257.43 L388.00,257.51 L388.25,257.63 L388.50,257.81 L388.75,258.04 L389.00,258.33 L389.25,258.68 L389.50,259.10 L389.75,259.58 L390.00,260.13 L390.25,260.76 L390.50,261.47 L390.75,262.26 L391.00,263.15 L391.25,264.13 L391.50,265.21 L391.75,266.40 L392.00,267.69 L392.25,269.09 L392.50,270.60 L392.75,272.21 L393.00,273.93 L393.25,275.76 L393.50,277.68 L393.75,279.69 L394.00,281.79 L394.25,283.97 L394.50,286.21 L394.75,288.51 L395.00,290.87 L395.25,293.27 L395.50,295.70 L395.75,298.15 L396.00,300.62 L396.25,303.10 L396.50,305.58 L396.75,308.05 L397.00,310.51 L397.25,312.96 L397.50,315.39 L397.75,317.79 L398.00,320.16 L398.25,322.50 L398.50,324.81 L398.75,327.09 L399.00,329.32 L399.25,331.52 L399.50,333.68 L399.75,335.81 L400.00,337.89 L400.25,339.93 L400.50,341.93 L400.75,343.90 L401.00,345.82 L401.25,347.70 L401.50,349.55 L401.75,351.36 L402.00,353.12 L402.25,354.86 L402.50,356.55 L402.75,358.21 L403.00,359.84 L403.25,361.43 L403.50,362.99 L403.75,364.52 L404.00,366.01 L404.25,367.47 L404.50,368.90 L404.75,370.31 L405.00,371.68 L405.25,373.02 L405.50,374.34 L405.75,375.63 L406.00,376.90 L406.25,378.14 L406.50,379.35 L406.75,380.54 L407.00,381.71 L407.25,382.85 L407.50,383.97 L407.75,385.07 L408.00,386.15 L408.25,387.21 L408.50,388.24 L408.75,389.26 L409.00,390.26 L409.25,391.24 L409.50,392.20 L409.75,393.14 L410.00,394.07 L410.25,394.98 L410.50,395.87 L410.75,396.75 L411.00,397.61 L411.25,398.45 L411.50,399.28 L411.75,400.10 L412.00,400.90 L412.25,401.69 L412.50,402.46 L412.75,403.23 L413.00,403.97 L413.25,404.71 L413.50,405.43 L413.75,406.15 L414.00,406.85 L414.25,407.53 L414.50,408.21 L414.75,408.88 L415.00,409.53 L415.25,410.18 L415.50,410.81 L415.75,411.44 L416.00,412.05 L416.25,412.66 L416.50,413.26 L416.75,413.84 L417.00,414.42 L417.25,414.99 L417.50,415.55 L417.75,416.11 L418.00,416.65" fill="none" stroke="#0000ff" stroke-width="2.3" stroke-linejoin="round" stroke-dasharray="0 3.2" stroke-linecap="round" stroke-dashoffset="2.83"/>
<path d="M289.30,464.62 L289.50,464.57 L289.75,464.51 L290.00,464.46 L290.25,464.40 L290.50,464.34 L290.75,464.28 L291.00,464.22 L291.25,464.16 L291.50,464.10 L291.75,464.04 L292.00,463.98 L292.25,463.92 L292.50,463.86 L292.75,463.80 L293.00,463.74 L293.25,463.68 L293.50,463.62 L293.75,463.55 L294.00,463.49 L294.25,463.43 L294.50,463.36 L294.75,463.30 L295.00,463.24 L295.25,463.17 L295.50,463.11 L295.75,463.04 L296.00,462.98 L296.25,462.91 L296.50,462.84 L296.75,462.78 L297.00,462.71 L297.25,462.64 L297.50,462.58 L297.75,462.51 L298.00,462.44 L298.25,462.37 L298.50,462.30 L298.75,462.23 L299.00,462.16 L299.25,462.09 L299.50,462.02 L299.75,461.95 L300.00,461.88 L300.25,461.81 L300.50,461.73 L300.75,461.66 L301.00,461.59 L301.25,461.51 L301.50,461.44 L301.75,461.37 L302.00,461.29 L302.25,461.22 L302.50,461.14 L302.75,461.06 L303.00,460.99 L303.25,460.91 L303.50,460.83 L303.75,460.75 L304.00,460.68 L304.25,460.60 L304.50,460.52 L304.75,460.44 L305.00,460.36 L305.25,460.28 L305.50,460.20 L305.75,460.11 L306.00,460.03 L306.25,459.95 L306.50,459.87 L306.75,459.78 L307.00,459.70 L307.25,459.61 L307.50,459.53 L307.75,459.44 L308.00,459.35 L308.25,459.27 L308.50,459.18 L308.75,459.09 L309.00,459.00 L309.25,458.91 L309.50,458.82 L309.75,458.73 L310.00,458.64 L310.25,458.55 L310.50,458.46 L310.75,458.37 L311.00,458.27 L311.25,458.18 L311.50,458.09 L311.75,457.99 L312.00,457.90 L312.25,457.80 L312.50,457.70 L312.75,457.60 L313.00,457.51 L313.25,457.41 L313.50,457.31 L313.75,457.21 L314.00,457.11 L314.25,457.01 L314.50,456.90 L314.75,456.80 L315.00,456.70 L315.25,456.59 L315.50,456.49 L315.75,456.38 L316.00,456.28 L316.25,456.17 L316.50,456.06 L316.75,455.95 L317.00,455.84 L317.25,455.73 L317.50,455.62 L317.75,455.51 L318.00,455.40 L318.25,455.28 L318.50,455.17 L318.75,455.06 L319.00,454.94 L319.25,454.82 L319.50,454.71 L319.75,454.59 L320.00,454.47 L320.25,454.35 L320.50,454.23 L320.75,454.11 L321.00,453.98 L321.25,453.86 L321.50,453.73 L321.75,453.61 L322.00,453.48 L322.25,453.36 L322.50,453.23 L322.75,453.10 L323.00,452.97 L323.25,452.84 L323.50,452.70 L323.75,452.57 L324.00,452.44 L324.25,452.30 L324.50,452.17 L324.75,452.03 L325.00,451.89 L325.25,451.75 L325.50,451.61 L325.75,451.47 L326.00,451.33 L326.25,451.18 L326.50,451.04 L326.75,450.89 L327.00,450.74 L327.25,450.59 L327.50,450.44 L327.75,450.29 L328.00,450.14 L328.25,449.99 L328.50,449.83 L328.75,449.68 L329.00,449.52 L329.25,449.36 L329.50,449.20 L329.75,449.04 L330.00,448.88 L330.25,448.71 L330.50,448.55 L330.75,448.38 L331.00,448.21 L331.25,448.04 L331.50,447.87 L331.75,447.70 L332.00,447.52 L332.25,447.35 L332.50,447.17 L332.75,446.99 L333.00,446.81 L333.25,446.63 L333.50,446.44 L333.75,446.26 L334.00,446.07 L334.25,445.88 L334.50,445.69 L334.75,445.50 L335.00,445.31 L335.25,445.11 L335.50,444.91 L335.75,444.71 L336.00,444.51 L336.25,444.31 L336.50,444.10 L336.75,443.90 L337.00,443.69 L337.25,443.48 L337.50,443.26 L337.75,443.05 L338.00,442.83 L338.25,442.61 L338.50,442.39 L338.75,442.17 L339.00,441.94 L339.25,441.71 L339.50,441.48 L339.75,441.25 L340.00,441.01 L340.25,440.78 L340.50,440.54 L340.75,440.29 L341.00,440.05 L341.25,439.80 L341.50,439.55 L341.75,439.30 L342.00,439.04 L342.25,438.79 L342.50,438.52 L342.75,438.26 L343.00,437.99 L343.25,437.73 L343.50,437.45 L343.75,437.18 L344.00,436.90 L344.25,436.62 L344.50,436.33 L344.75,436.05 L345.00,435.76 L345.25,435.46 L345.50,435.17 L345.75,434.87 L346.00,434.56 L346.25,434.25 L346.50,433.94 L346.75,433.63 L347.00,433.31 L347.25,432.99 L347.50,432.66 L347.75,432.33 L348.00,432.00 L348.25,431.66 L348.50,431.32 L348.75,430.97 L349.00,430.62 L349.25,430.27 L349.50,429.91 L349.75,429.55 L350.00,429.18 L350.25,428.81 L350.50,428.43 L350.75,428.05 L351.00,427.66 L351.25,427.27 L351.50,426.88 L351.75,426.47 L352.00,426.07 L352.25,425.66 L352.50,425.24 L352.75,424.81 L353.00,424.39 L353.25,423.95 L353.50,423.51 L353.75,423.06 L354.00,422.61 L354.25,422.15 L354.50,421.69 L354.75,421.22 L355.00,420.74 L355.25,420.25 L355.50,419.76 L355.75,419.26 L356.00,418.75 L356.25,418.24 L356.50,417.72 L356.75,417.19 L357.00,416.65 L357.25,416.11 L357.50,415.56 L357.75,414.99 L358.00,414.42 L358.25,413.85 L358.50,413.26 L358.75,412.66 L359.00,412.06 L359.25,411.44 L359.50,410.82 L359.75,410.18 L360.00,409.54 L360.25,408.88 L360.50,408.21 L360.75,407.54 L361.00,406.85 L361.25,406.15 L361.50,405.44 L361.75,404.71 L362.00,403.98 L362.25,403.23 L362.50,402.47 L362.75,401.69 L363.00,400.91 L363.25,400.10 L363.50,399.29 L363.75,398.46 L364.00,397.61 L364.25,396.75 L364.50,395.88 L364.75,394.98 L365.00,394.08 L365.25,393.15 L365.50,392.21 L365.75,391.25 L366.00,390.27 L366.25,389.27 L366.50,388.26 L366.75,387.22 L367.00,386.17 L367.25,385.09 L367.50,383.99 L367.75,382.87 L368.00,381.73 L368.25,380.57 L368.50,379.38 L368.75,378.17 L369.00,376.94 L369.25,375.68 L369.50,374.39 L369.75,373.08 L370.00,371.74 L370.25,370.37 L370.50,368.98 L370.75,367.55 L371.00,366.10 L371.25,364.62 L371.50,363.10 L371.75,361.56 L372.00,359.98 L372.25,358.37 L372.50,356.73 L372.75,355.05 L373.00,353.35 L373.25,351.60 L373.50,349.83 L373.75,348.02 L374.00,346.17 L374.25,344.30 L374.50,342.39 L374.75,340.44 L375.00,338.47 L375.25,336.46 L375.50,334.42 L375.75,332.36 L376.00,330.27 L376.25,328.16 L376.50,326.02 L376.75,323.87 L377.00,321.71 L377.25,319.54 L377.50,317.36 L377.75,315.19 L378.00,313.02 L378.25,310.87 L378.50,308.74 L378.75,306.64 L379.00,304.58 L379.25,302.57 L379.50,300.60 L379.75,298.70 L380.00,296.87 L380.25,295.11 L380.50,293.43 L380.75,291.83 L381.00,290.33 L381.25,288.91 L381.50,287.60 L381.75,286.37 L382.00,285.24 L382.25,284.20 L382.50,283.25 L382.75,282.38 L383.00,281.59 L383.25,280.88 L383.50,280.25 L383.75,279.68 L384.00,279.17 L384.25,278.72 L384.50,278.32 L384.75,277.97 L385.00,277.66 L385.25,277.39 L385.50,277.16 L385.75,276.97 L386.00,276.80 L386.25,276.67 L386.50,276.56 L386.75,276.48 L387.00,276.42 L387.25,276.39 L387.50,276.37 L387.75,276.39 L388.00,276.42 L388.25,276.48 L388.50,276.56 L388.75,276.67 L389.00,276.80 L389.25,276.97 L389.50,277.16 L389.75,277.39 L390.00,277.66 L390.25,277.97 L390.50,278.32 L390.75,278.72 L391.00,279.17 L391.25,279.68 L391.50,280.25 L391.75,280.88 L392.00,281.59 L392.25,282.38 L392.50,283.25 L392.75,284.20 L393.00,285.24 L393.25,286.37 L393.50,287.60 L393.75,288.91 L394.00,290.33 L394.25,291.83 L394.50,293.43 L394.75,295.11 L395.00,296.87 L395.25,298.70 L395.50,300.60 L395.75,302.57 L396.00,304.58 L396.25,306.64 L396.50,308.74 L396.75,310.87 L397.00,313.02 L397.25,315.19 L397.50,317.36 L397.75,319.54 L398.00,321.71 L398.25,323.87 L398.50,326.02 L398.75,328.16 L399.00,330.27 L399.25,332.36 L399.50,334.42 L399.75,336.46 L400.00,338.47 L400.25,340.44 L400.50,342.39 L400.75,344.30 L401.00,346.17 L401.25,348.02 L401.50,349.83 L401.75,351.60 L402.00,353.35 L402.25,355.05 L402.50,356.73 L402.75,358.37 L403.00,359.98 L403.25,361.56 L403.50,363.10 L403.75,364.62 L404.00,366.10 L404.25,367.55 L404.50,368.98 L404.75,370.37 L405.00,371.74 L405.25,373.08 L405.50,374.39 L405.75,375.68 L406.00,376.94 L406.25,378.17 L406.50,379.38 L406.75,380.57 L407.00,381.73 L407.25,382.87 L407.50,383.99 L407.75,385.09 L408.00,386.17 L408.25,387.22 L408.50,388.26 L408.75,389.27 L409.00,390.27 L409.25,391.25 L409.50,392.21 L409.75,393.15 L410.00,394.08 L410.25,394.98 L410.50,395.88 L410.75,396.75 L411.00,397.61 L411.25,398.46 L411.50,399.29 L411.75,400.10 L412.00,400.91 L412.25,401.69 L412.50,402.47 L412.75,403.23 L413.00,403.98 L413.25,404.71 L413.50,405.44 L413.75,406.15 L414.00,406.85 L414.25,407.54 L414.50,408.21 L414.75,408.88 L415.00,409.54 L415.25,410.18 L415.50,410.82 L415.75,411.44 L416.00,412.06 L416.25,412.66 L416.50,413.26 L416.75,413.85 L417.00,414.42 L417.25,414.99 L417.50,415.56 L417.75,416.11 L418.00,416.65" fill="none" stroke="#ff00ff" stroke-width="2.5" stroke-linejoin="round" stroke-dasharray="7.8 3.3 2.4 3.1" stroke-dashoffset="4.46"/></g>
<g id="axes"><rect x="55.70" y="195.40" width="195.70" height="291.80" stroke="#000" stroke-width="0.9" fill="none"/>
<path d="M289.30,195.40 H417.00 M289.30,487.20 H417.00 M289.30,195.40 V487.20" stroke="#000" stroke-width="0.9" fill="none"/>
<path d="M55.70,487.20 h-3.60 M251.40,487.20 h-3.60 M55.70,458.02 h-2.00 M251.40,458.02 h-2.00 M55.70,428.84 h-3.60 M251.40,428.84 h-3.60 M55.70,399.66 h-2.00 M251.40,399.66 h-2.00 M55.70,370.48 h-3.60 M251.40,370.48 h-3.60 M55.70,341.30 h-2.00 M251.40,341.30 h-2.00 M55.70,312.12 h-3.60 M251.40,312.12 h-3.60 M55.70,282.94 h-2.00 M251.40,282.94 h-2.00 M55.70,253.76 h-3.60 M251.40,253.76 h-3.60 M55.70,224.58 h-2.00 M251.40,224.58 h-2.00 M55.70,195.40 h-3.60 M251.40,195.40 h-3.60 M55.70,487.20 v3.60 M55.70,195.40 v3.60 M104.62,487.20 v2.00 M104.62,195.40 v2.00 M153.55,487.20 v3.60 M153.55,195.40 v3.60 M202.48,487.20 v2.00 M202.48,195.40 v2.00 M251.40,487.20 v3.60 M251.40,195.40 v3.60 M289.30,487.20 h-3.60 M289.30,450.73 h-2.00 M289.30,414.25 h-3.60 M289.30,377.77 h-2.00 M289.30,341.30 h-3.60 M289.30,304.83 h-2.00 M289.30,268.35 h-3.60 M289.30,231.88 h-2.00 M289.30,195.40 h-3.60 M387.50,487.20 v3.60 M387.50,195.40 v3.60" stroke="#000" stroke-width="0.9" fill="none"/></g>
<g id="legend"><path d="M65.4,246.3 H99.6" stroke="#000000" stroke-width="2.4" fill="none"/>
<path d="M65.4,264.0 H98.6" stroke="#ff0000" stroke-width="2.3" fill="none" stroke-dasharray="5.4 3.75"/>
<path d="M66.9,281.6 H95.0" stroke="#0000ff" stroke-width="2.4" fill="none" stroke-dasharray="0 4.58" stroke-linecap="round"/>
<path d="M65.4,299.1 H98.6" stroke="#ff00ff" stroke-width="2.3" fill="none" stroke-dasharray="7.8 3.3 2.4 3.1"/>
<path d="M412.0,234.4 H450" stroke="#000000" stroke-width="2.4" fill="none"/>
<path d="M412.0,251.7 H450" stroke="#ff0000" stroke-width="2.3" fill="none" stroke-dasharray="5.4 3.75"/>
<path d="M413.0,269.7 H450" stroke="#0000ff" stroke-width="2.4" fill="none" stroke-dasharray="0 4.58" stroke-linecap="round"/>
<path d="M412.0,286.9 H450" stroke="#ff00ff" stroke-width="2.3" fill="none" stroke-dasharray="7.8 3.3 2.4 3.1"/></g>
<g id="text"><text x="50.1" y="491.3" font-size="16" text-anchor="end">0</text>
<text x="50.1" y="432.9" font-size="16" text-anchor="end">100</text>
<text x="50.1" y="374.6" font-size="16" text-anchor="end">200</text>
<text x="50.1" y="316.2" font-size="16" text-anchor="end">300</text>
<text x="50.1" y="257.9" font-size="16" text-anchor="end">400</text>
<text x="50.1" y="199.5" font-size="16" text-anchor="end">500</text>
<text x="283.7" y="491.3" font-size="16" text-anchor="end">0</text>
<text x="283.7" y="418.4" font-size="16" text-anchor="end">100</text>
<text x="283.7" y="345.4" font-size="16" text-anchor="end">200</text>
<text x="283.7" y="272.5" font-size="16" text-anchor="end">300</text>
<text x="283.7" y="199.5" font-size="16" text-anchor="end">400</text>
<text x="55.7" y="505.5" font-size="16" text-anchor="middle">0</text>
<text x="153.6" y="505.5" font-size="16" text-anchor="middle">250</text>
<text x="251.4" y="505.5" font-size="16" text-anchor="middle">500</text>
<text x="387.5" y="505.5" font-size="16" text-anchor="middle">0.0</text>
<text x="59.4" y="218.3" font-size="17.6" text-anchor="start">(a)</text>
<text x="296.3" y="214.9" font-size="17.6" text-anchor="start">(b)</text>
<text x="101.9" y="250.7" font-size="13.8" text-anchor="start">10pT</text>
<text x="101.9" y="268.1" font-size="13.8" text-anchor="start">40pT</text>
<text x="101.9" y="285.5" font-size="13.8" text-anchor="start">80pT</text>
<text x="101.9" y="303.0" font-size="13.8" text-anchor="start">100pT</text>
<text transform="translate(138.9,530.0) scale(0.94,1)" font-size="16.5"><tspan font-style="italic">T</tspan> (s)</text>
<text transform="translate(366.0,532.1) scale(0.94,1) skewX(-14)" font-size="16.5">Δ</text>
<text transform="translate(380.3,532.1) scale(0.94,1)" font-size="16.5">(Hz)</text>
<text transform="translate(17.4,355.6) rotate(-90)" font-size="16.3"><tspan font-style="italic">t</tspan><tspan font-size="11" dy="3.2">opt</tspan><tspan dy="-3.2"> (s)</tspan></text></g>
</svg>
</body></html>
